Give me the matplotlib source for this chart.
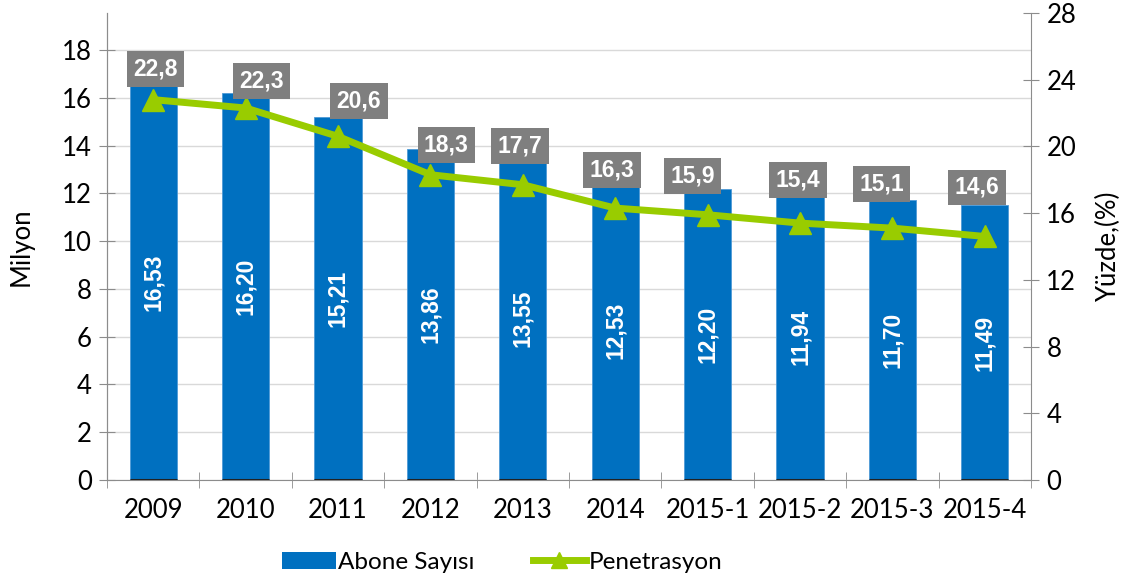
import numpy as np
import matplotlib.pyplot as plt
from matplotlib.patches import Patch
from matplotlib.lines import Line2D

plt.rcParams['font.family'] = ['Lato', 'DejaVu Sans']

# Data
periods = ['2009', '2010', '2011', '2012', '2013', '2014',
           '2015-1', '2015-2', '2015-3', '2015-4']
subscribers = [16.53, 16.20, 15.21, 13.86, 13.55, 12.53, 12.20, 11.94, 11.70, 11.49]
penetration = [22.8, 22.3, 20.6, 18.3, 17.7, 16.3, 15.9, 15.4, 15.1, 14.6]

# label nudges (pixels) for the grey boxes
lab_dx = [2, 16, 21, 16, -3, -3, -15, -2, -11, -8]
lab_dy = [31, 27, 35, 30, 39, 38, 39, 43, 44, 49]

BLUE = '#0070C0'
GREEN = '#99CC00'
GREY = '#7F7F7F'
AXIS = '#8C8C8C'

fig = plt.figure(figsize=(11.31, 5.81), dpi=100)
ax = fig.add_axes([0.0946, 0.1738, 0.817, 0.804])
ax2 = ax.twinx()

x = np.arange(len(periods))
ax.bar(x, subscribers, width=0.51, color=BLUE, edgecolor='#4F9AD6', linewidth=0.6, zorder=2)
ax.hlines(np.zeros(len(x)), x - 0.255, x + 0.255, color='#222222', lw=2.2, zorder=3)
for xi, v in zip(x, subscribers):
    ax.text(xi, v / 2, f'{v:.2f}'.replace('.', ','), rotation=90, ha='center', va='center',
            color='white', fontsize=16.5, fontweight='bold', family='Liberation Sans', zorder=4)

ax.set_xlim(-0.5, len(periods) - 0.5)
ax.set_ylim(0, 19.55)
ax.set_yticks(np.arange(0, 19, 2))
ax.yaxis.grid(True, color='#D9D9D9', lw=1)
ax.set_axisbelow(True)
ax.set_xticks(x)
ax.set_xticklabels(periods)
ax.set_xticks(np.arange(-0.5, len(periods)), minor=True)
ax.tick_params(axis='x', which='major', length=0, pad=13, labelsize=18.5)
ax.tick_params(axis='x', which='minor', direction='inout', length=12, color=AXIS)
ax.tick_params(axis='y', direction='inout', length=12, color=AXIS, labelsize=18.5, pad=5)
ax.set_ylabel('Milyon', fontsize=18.5, labelpad=20)

ax2.plot(x, penetration, color=GREEN, lw=5, marker='^', markersize=16, zorder=5)
for xi, p, dx, dy in zip(x, penetration, lab_dx, lab_dy):
    ax2.annotate(f'{p:.1f}'.replace('.', ','), (xi, p), xytext=(dx, dy), textcoords='offset pixels',
                 ha='center', va='center', color='white', fontsize=16.5, fontweight='bold',
                 family='Liberation Sans',
                 bbox=dict(boxstyle='square,pad=0.28', fc=GREY, ec='none'), zorder=6)
ax2.set_ylim(0, 28)
ax2.set_yticks(np.arange(0, 29, 4))
ax2.tick_params(axis='y', direction='inout', length=12, color=AXIS, labelsize=18.5, pad=5)
ax2.set_ylabel('Yüzde,(%)', fontsize=18.5, rotation=90, labelpad=14)

for a in (ax, ax2):
    a.spines['top'].set_visible(False)
    for s in ('left', 'right', 'bottom'):
        a.spines[s].set_color(AXIS)
ax2.spines['bottom'].set_visible(False)
ax.spines['right'].set_visible(False)

handles = [Patch(facecolor=BLUE, edgecolor='none'),
           Line2D([], [], color=GREEN, lw=5, marker='^', markersize=12)]
fig.legend(handles, ['Abone Sayısı', 'Penetrasyon'], loc='center',
           bbox_to_anchor=(0.444, 0.032), ncol=2, frameon=False, fontsize=17.5,
           handlelength=2.2, handleheight=0.7, handletextpad=0.1, columnspacing=2.4)

plt.savefig('out.png', dpi=100)
